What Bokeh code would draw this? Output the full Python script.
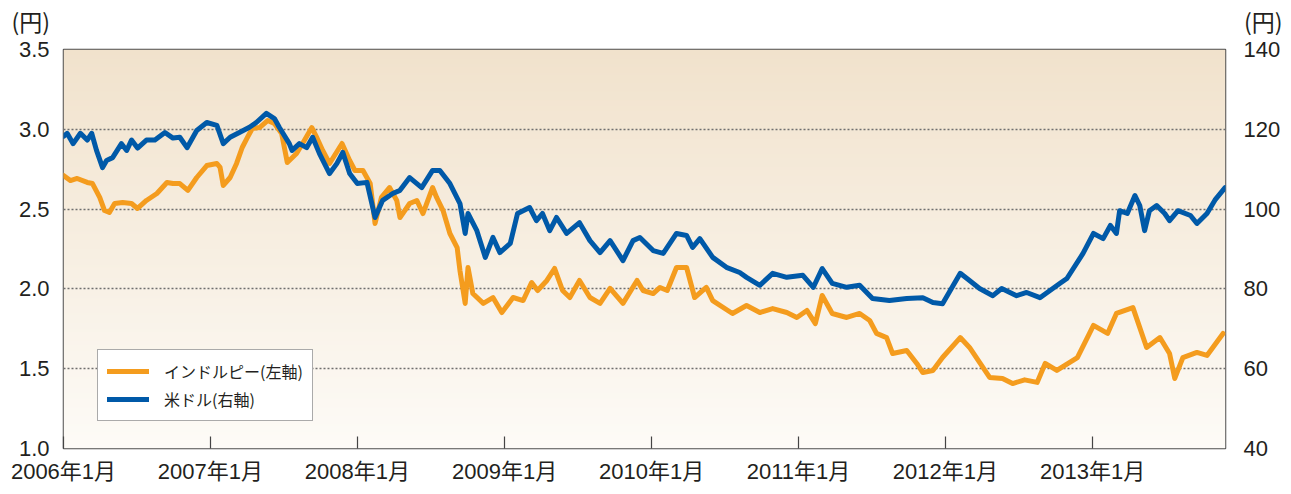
from datetime import datetime
import numpy as np
import pandas as pd
from bokeh.plotting import figure
from bokeh.layouts import column
from bokeh.models import (Range1d, LinearAxis, FixedTicker, Legend, LegendItem,
                          Div, NumeralTickFormatter)
from bokeh.embed import file_html
from bokeh.resources import INLINE

# ---------------- data ----------------
inr_dates = [
    "2006-01-01", "2006-01-18", "2006-02-04", "2006-03-01", "2006-03-14", "2006-04-01",
    "2006-04-13", "2006-04-25", "2006-05-08", "2006-05-28", "2006-06-19", "2006-07-04",
    "2006-07-26", "2006-08-21", "2006-09-15", "2006-09-30", "2006-10-17", "2006-11-06",
    "2006-11-28", "2006-12-23", "2007-01-17", "2007-01-25", "2007-02-02", "2007-02-19",
    "2007-03-07", "2007-03-21", "2007-04-03", "2007-04-15", "2007-05-03", "2007-05-23",
    "2007-06-09", "2007-06-27", "2007-07-11", "2007-08-03", "2007-08-18", "2007-09-10",
    "2007-09-22", "2007-10-07", "2007-10-24", "2007-11-24", "2007-12-13", "2007-12-26",
    "2008-01-15", "2008-02-02", "2008-02-14", "2008-03-01", "2008-03-21", "2008-04-08",
    "2008-04-16", "2008-05-10", "2008-05-28", "2008-06-12", "2008-07-06", "2008-07-16",
    "2008-08-01", "2008-08-18", "2008-09-05", "2008-09-12", "2008-09-25", "2008-10-02",
    "2008-10-14", "2008-11-09", "2008-12-03", "2008-12-25", "2009-01-22", "2009-02-16",
    "2009-03-09", "2009-03-24", "2009-04-16", "2009-05-05", "2009-05-25", "2009-06-12",
    "2009-07-06", "2009-08-01", "2009-08-26", "2009-09-20", "2009-10-22", "2009-11-26",
    "2009-12-11", "2010-01-05", "2010-01-22", "2010-02-09", "2010-03-04", "2010-03-29",
    "2010-04-18", "2010-05-17", "2010-06-02", "2010-07-21", "2010-08-25", "2010-09-27",
    "2010-10-29", "2010-12-03", "2010-12-28", "2011-01-22", "2011-02-12", "2011-03-01",
    "2011-03-26", "2011-05-01", "2011-06-02", "2011-06-27", "2011-07-14", "2011-08-08",
    "2011-08-23", "2011-09-27", "2011-10-22", "2011-11-06", "2011-12-01", "2011-12-25",
    "2012-02-07", "2012-03-01", "2012-04-20", "2012-05-22", "2012-06-16", "2012-07-16",
    "2012-08-16", "2012-09-05", "2012-10-04", "2012-11-24", "2013-01-03", "2013-02-07",
    "2013-03-01", "2013-04-11", "2013-05-15", "2013-06-17", "2013-07-11", "2013-07-24",
    "2013-08-13", "2013-09-17", "2013-10-12", "2013-11-21",
]
inr_values = [
    2.711, 2.679, 2.692, 2.667, 2.660, 2.573,
    2.491, 2.479, 2.535, 2.541, 2.535, 2.504,
    2.554, 2.598, 2.667, 2.660, 2.660, 2.617,
    2.698, 2.773, 2.786, 2.761, 2.648, 2.698,
    2.786, 2.886, 2.949, 3.005, 3.011, 3.055,
    3.036, 2.974, 2.792, 2.848, 2.911, 3.011,
    2.949, 2.867, 2.786, 2.911, 2.805, 2.742,
    2.742, 2.660, 2.410, 2.573, 2.635, 2.554,
    2.447, 2.535, 2.554, 2.472, 2.635, 2.573,
    2.491, 2.347, 2.259, 2.115, 1.909, 2.134,
    1.971, 1.909, 1.946, 1.852, 1.946, 1.927,
    2.040, 1.990, 2.053, 2.128, 1.990, 1.946,
    2.053, 1.946, 1.909, 2.003, 1.909, 2.053,
    1.990, 1.971, 2.009, 1.990, 2.134, 2.134,
    1.946, 2.009, 1.927, 1.846, 1.896, 1.852,
    1.877, 1.852, 1.821, 1.865, 1.783, 1.959,
    1.846, 1.821, 1.846, 1.802, 1.721, 1.695,
    1.595, 1.614, 1.533, 1.476, 1.489, 1.570,
    1.695, 1.633, 1.445, 1.439, 1.407, 1.430,
    1.414, 1.533, 1.489, 1.570, 1.771, 1.721,
    1.846, 1.883, 1.633, 1.695, 1.595, 1.439,
    1.570, 1.602, 1.583, 1.721,
]

usd_dates = [
    "2006-01-01", "2006-01-10", "2006-01-25", "2006-02-12", "2006-03-01", "2006-03-12",
    "2006-03-24", "2006-04-08", "2006-04-18", "2006-05-03", "2006-05-25", "2006-06-07",
    "2006-06-19", "2006-07-04", "2006-07-26", "2006-08-16", "2006-09-10", "2006-09-30",
    "2006-10-17", "2006-11-04", "2006-11-28", "2006-12-23", "2007-01-17", "2007-02-02",
    "2007-02-19", "2007-03-14", "2007-04-08", "2007-04-25", "2007-05-20", "2007-06-09",
    "2007-06-21", "2007-07-16", "2007-07-23", "2007-08-10", "2007-08-28", "2007-09-12",
    "2007-09-29", "2007-10-24", "2007-11-11", "2007-11-26", "2007-12-13", "2008-01-01",
    "2008-01-25", "2008-02-14", "2008-03-04", "2008-03-29", "2008-04-16", "2008-05-10",
    "2008-06-09", "2008-07-06", "2008-07-24", "2008-08-18", "2008-09-12", "2008-09-25",
    "2008-10-02", "2008-10-24", "2008-11-14", "2008-12-03", "2008-12-20", "2009-01-15",
    "2009-02-02", "2009-03-04", "2009-03-21", "2009-04-05", "2009-04-23", "2009-05-10",
    "2009-06-04", "2009-07-06", "2009-08-01", "2009-08-26", "2009-09-20", "2009-10-22",
    "2009-11-16", "2009-12-03", "2010-01-05", "2010-01-30", "2010-03-04", "2010-03-29",
    "2010-04-13", "2010-05-01", "2010-06-02", "2010-07-06", "2010-08-08", "2010-08-25",
    "2010-09-27", "2010-10-29", "2010-12-03", "2011-01-12", "2011-02-07", "2011-03-01",
    "2011-03-26", "2011-05-01", "2011-06-02", "2011-07-04", "2011-08-15", "2011-09-27",
    "2011-11-06", "2011-12-01", "2011-12-25", "2012-02-07", "2012-03-01", "2012-03-26",
    "2012-04-28", "2012-05-20", "2012-06-26", "2012-07-21", "2012-08-23", "2012-09-17",
    "2012-10-12", "2012-10-29", "2012-12-08", "2013-01-03", "2013-01-27", "2013-02-14",
    "2013-03-01", "2013-03-09", "2013-03-28", "2013-04-16", "2013-04-28", "2013-05-10",
    "2013-05-22", "2013-06-09", "2013-06-29", "2013-07-11", "2013-08-01", "2013-09-01",
    "2013-09-17", "2013-10-12", "2013-11-01", "2013-11-26",
]
usd_values = [
    118.2, 119.0, 116.4, 119.0, 117.3, 119.0,
    114.7, 110.4, 112.2, 112.9, 116.4, 114.7,
    117.3, 115.3, 117.3, 117.3, 119.2, 117.8,
    118.0, 115.4, 119.7, 121.7, 121.0, 116.4,
    118.0, 119.2, 120.5, 121.7, 124.0, 122.7,
    120.5, 116.4, 114.7, 116.4, 115.4, 118.0,
    113.9, 108.9, 111.4, 114.2, 108.9, 106.4,
    106.7, 97.9, 102.2, 103.9, 104.7, 107.9,
    105.4, 109.7, 109.7, 106.4, 101.4, 93.9,
    98.9, 94.6, 87.9, 92.9, 89.1, 91.4,
    98.9, 100.4, 97.1, 98.9, 94.6, 97.9,
    93.9, 96.6, 92.1, 89.1, 92.1, 87.1,
    92.1, 92.9, 89.6, 88.9, 93.9, 93.4,
    90.4, 92.6, 87.9, 85.4, 84.1, 82.9,
    80.9, 83.9, 82.9, 83.4, 80.4, 85.1,
    81.4, 80.4, 80.9, 77.6, 77.1, 77.6,
    77.8, 76.6, 76.3, 83.9, 82.1, 80.1,
    78.3, 80.1, 78.3, 79.1, 77.8, 79.6,
    81.4, 82.6, 88.9, 93.9, 92.6, 95.9,
    93.9, 99.6, 98.9, 103.4, 100.9, 94.6,
    99.6, 100.9, 98.9, 97.1, 99.6, 98.4,
    96.4, 98.9, 102.3, 105.4,
]

x_tick_years = [2006, 2007, 2008, 2009, 2010, 2011, 2012, 2013]
x_tick_labels = ["2006年1月", "2007年1月", "2008年1月", "2009年1月",
                 "2010年1月", "2011年1月", "2012年1月", "2013年1月"]
left_ticks = [1.0, 1.5, 2.0, 2.5, 3.0, 3.5]
right_ticks = [40, 60, 80, 100, 120, 140]
grid_ticks = [1.5, 2.0, 2.5, 3.0]
series_names = ["インドルピー(左軸)", "米ドル(右軸)"]
unit_label = "(円)"

# ---------------- helpers ----------------
EPOCH = datetime(1970, 1, 1)


def to_ms(d):
    return (d - EPOCH).total_seconds() * 1000.0


x_start = to_ms(datetime(2006, 1, 1))
x_end = to_ms(datetime(2013, 11, 27))
x_ticks = [to_ms(datetime(y, 1, 1)) for y in x_tick_years]

TEXT = "#231f20"
NUM_FONT = "Liberation Sans, Noto Sans CJK JP"
JP_FONT = "Noto Sans CJK JP"

TOTAL_W = 1285
HEAD_H = 36

p = figure(width=TOTAL_W, height=454, x_axis_type="datetime",
           x_range=Range1d(x_start, x_end), y_range=Range1d(1.0, 3.5),
           output_backend="svg", toolbar_location=None,
           min_border_left=63, min_border_right=60,
           min_border_top=49 - HEAD_H, min_border_bottom=42)
p.extra_y_ranges = {"right": Range1d(40, 140)}

# vertical gradient background of the plot area
rows = 256
t = np.linspace(0.0, 1.0, rows)[:, None]
bottom_c = np.array([253, 251, 247], dtype=float)
top_c = np.array([241, 226, 204], dtype=float)
img = np.empty((rows, 2), dtype=np.uint32)
view = img.view(dtype=np.uint8).reshape((rows, 2, 4))
for k in range(3):
    view[:, :, k] = np.round(bottom_c[k] + (top_c[k] - bottom_c[k]) * t).astype(np.uint8)
view[:, :, 3] = 255
p.image_rgba(image=[img], x=x_start, y=1.0, dw=x_end - x_start, dh=2.5, level="image")

# lines
inr_x = pd.to_datetime(inr_dates)
usd_x = pd.to_datetime(usd_dates)
r_inr = p.line(inr_x, inr_values, line_color="#F49C1E", line_width=5,
               line_join="round", line_cap="round")
r_usd = p.line(usd_x, usd_values, y_range_name="right", line_color="#0059A8",
               line_width=5, line_join="round", line_cap="round")

# frame & grid
p.outline_line_color = "#4d4d4d"
p.outline_line_width = 1.5
p.xgrid.visible = False
p.ygrid.ticker = FixedTicker(ticks=grid_ticks)
p.ygrid.grid_line_color = "#6f6f6f"
p.ygrid.grid_line_dash = "2 2"
p.ygrid.grid_line_width = 1.5

# x axis
xa = p.xaxis[0]
xa.ticker = FixedTicker(ticks=x_ticks)
xa.major_label_overrides = {tk: lab for tk, lab in zip(x_ticks, x_tick_labels)}
xa.major_tick_in = 12
xa.major_tick_out = 0
xa.major_tick_line_color = "#444444"
xa.major_tick_line_width = 1.2
xa.minor_tick_line_color = None
xa.axis_line_color = None
xa.major_label_standoff = 10
xa.major_label_text_font = NUM_FONT
xa.major_label_text_font_size = "22px"
xa.major_label_text_color = TEXT

# left axis
ya = p.yaxis[0]
ya.ticker = FixedTicker(ticks=left_ticks)
ya.formatter = NumeralTickFormatter(format="0.0")
ya.major_tick_line_color = None
ya.minor_tick_line_color = None
ya.major_tick_in = 0
ya.major_tick_out = 0
ya.axis_line_color = None
ya.major_label_standoff = 14
ya.major_label_text_font = NUM_FONT
ya.major_label_text_font_size = "22px"
ya.major_label_text_color = TEXT

# right axis
ra = LinearAxis(y_range_name="right", ticker=FixedTicker(ticks=right_ticks))
ra.major_tick_line_color = None
ra.minor_tick_line_color = None
ra.major_tick_in = 0
ra.major_tick_out = 0
ra.axis_line_color = None
ra.major_label_standoff = 18
ra.major_label_text_font = NUM_FONT
ra.major_label_text_font_size = "22px"
ra.major_label_text_color = TEXT
p.add_layout(ra, "right")

# legend
legend = Legend(items=[LegendItem(label=series_names[0], renderers=[r_inr]),
                       LegendItem(label=series_names[1], renderers=[r_usd])],
                location=(34, 27))
legend.label_text_font = JP_FONT
legend.label_text_font_size = "16px"
legend.label_text_color = TEXT
legend.glyph_width = 42
legend.glyph_height = 22
legend.label_height = 22
legend.label_standoff = 15
legend.spacing = 4
legend.padding = 9
legend.margin = 0
legend.border_line_color = "#555555"
legend.border_line_width = 1
legend.background_fill_color = "white"
legend.background_fill_alpha = 1.0
p.add_layout(legend, "center")

# unit labels above both axes
head_html = (
    f'<div style="position:relative;width:{TOTAL_W}px;height:{HEAD_H}px;'
    f"font-family:'Noto Sans CJK JP',sans-serif;font-size:23px;line-height:23px;"
    f'color:{TEXT};">'
    f'<span style="position:absolute;right:{TOTAL_W - 50}px;top:10px;">{unit_label}</span>'
    f'<span style="position:absolute;left:1244px;top:10px;">{unit_label}</span>'
    '</div>'
)
head = Div(text=head_html, width=TOTAL_W, height=HEAD_H, margin=0)

layout = column(head, p, spacing=0)
open("out.html", "w").write(file_html(layout, INLINE))
